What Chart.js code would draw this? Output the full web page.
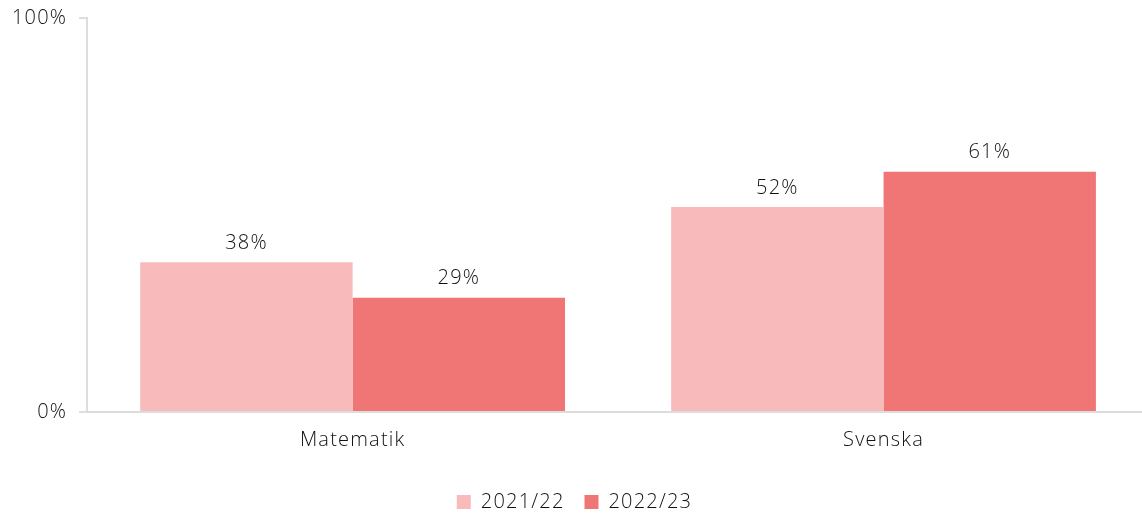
<!DOCTYPE html>
<html>
<head>
<meta charset="utf-8">
<script src="https://cdn.jsdelivr.net/npm/chart.js@4"></script>
<style>
html,body{margin:0;padding:0;background:#fff;overflow:hidden;}
#wrap{width:1142px;height:515px;overflow:hidden;}
</style>
</head>
<body>
<div id="wrap"><canvas id="c" width="1185" height="515"></canvas></div>
<script>
const categories = ["Matematik", "Svenska"];
const seriesNames = ["2021/22", "2022/23"];
const values2122 = [38, 52];
const values2223 = [29, 61];
const yTicks = [0, 100];

const FONT = "'Open Sans', Lato, sans-serif";
const SPACING = '1.2px';
const TEXT = '#111';

const spacingPlugin = {
  id: 'spacing',
  beforeUpdate(chart) { chart.ctx.letterSpacing = SPACING; },
  beforeLayout(chart) { chart.ctx.letterSpacing = SPACING; },
  beforeDraw(chart) { chart.ctx.letterSpacing = SPACING; },
  afterLayout(chart) {
    const lg = chart.legend;
    if (lg) { lg.top += 7; lg.bottom += 7; }
  }
};

const labelPlugin = {
  id: 'valueLabels',
  afterDatasetsDraw(chart) {
    const ctx = chart.ctx;
    ctx.save();
    ctx.letterSpacing = SPACING;
    ctx.font = "300 20px " + FONT;
    ctx.fillStyle = TEXT;
    ctx.textAlign = "center";
    ctx.textBaseline = "bottom";
    chart.data.datasets.forEach((ds, i) => {
      const meta = chart.getDatasetMeta(i);
      meta.data.forEach((bar, j) => {
        ctx.fillText(ds.data[j] + "%", bar.x, bar.y - 9);
      });
    });
    ctx.restore();
  }
};

new Chart(document.getElementById('c'), {
  type: 'bar',
  data: {
    labels: categories,
    datasets: [
      { label: seriesNames[0], data: values2122, backgroundColor: '#F8BABA' },
      { label: seriesNames[1], data: values2223, backgroundColor: '#F07575' }
    ]
  },
  options: {
    responsive: false,
    animation: false,
    layout: { padding: { top: 5, right: 36, left: 0, bottom: 0 } },
    datasets: { bar: { categoryPercentage: 0.80, barPercentage: 1.0 } },
    plugins: {
      legend: {
        position: 'bottom',
        labels: {
          font: { family: FONT, size: 20, weight: 300 },
          color: TEXT,
          boxWidth: 14, boxHeight: 14,
          padding: 20
        }
      },
      tooltip: { enabled: false }
    },
    scales: {
      x: {
        grid: { display: false },
        border: { color: '#dddddd', width: 2 },
        ticks: { font: { family: FONT, size: 20, weight: 300 }, color: TEXT, padding: 8 },
        afterFit(axis) { axis.height += 5; }
      },
      y: {
        min: yTicks[0], max: yTicks[1],
        afterBuildTicks(axis) { axis.ticks = yTicks.map(v => ({ value: v })); },
        grid: { drawOnChartArea: false, drawTicks: true, tickLength: 8, color: '#dddddd', lineWidth: 2 },
        border: { color: '#dddddd', width: 2 },
        ticks: { font: { family: FONT, size: 20, weight: 300, lineHeight: 0.6 }, color: TEXT, padding: 12, callback: v => v + '%' }
      }
    }
  },
  plugins: [spacingPlugin, labelPlugin]
});
</script>
</body>
</html>
